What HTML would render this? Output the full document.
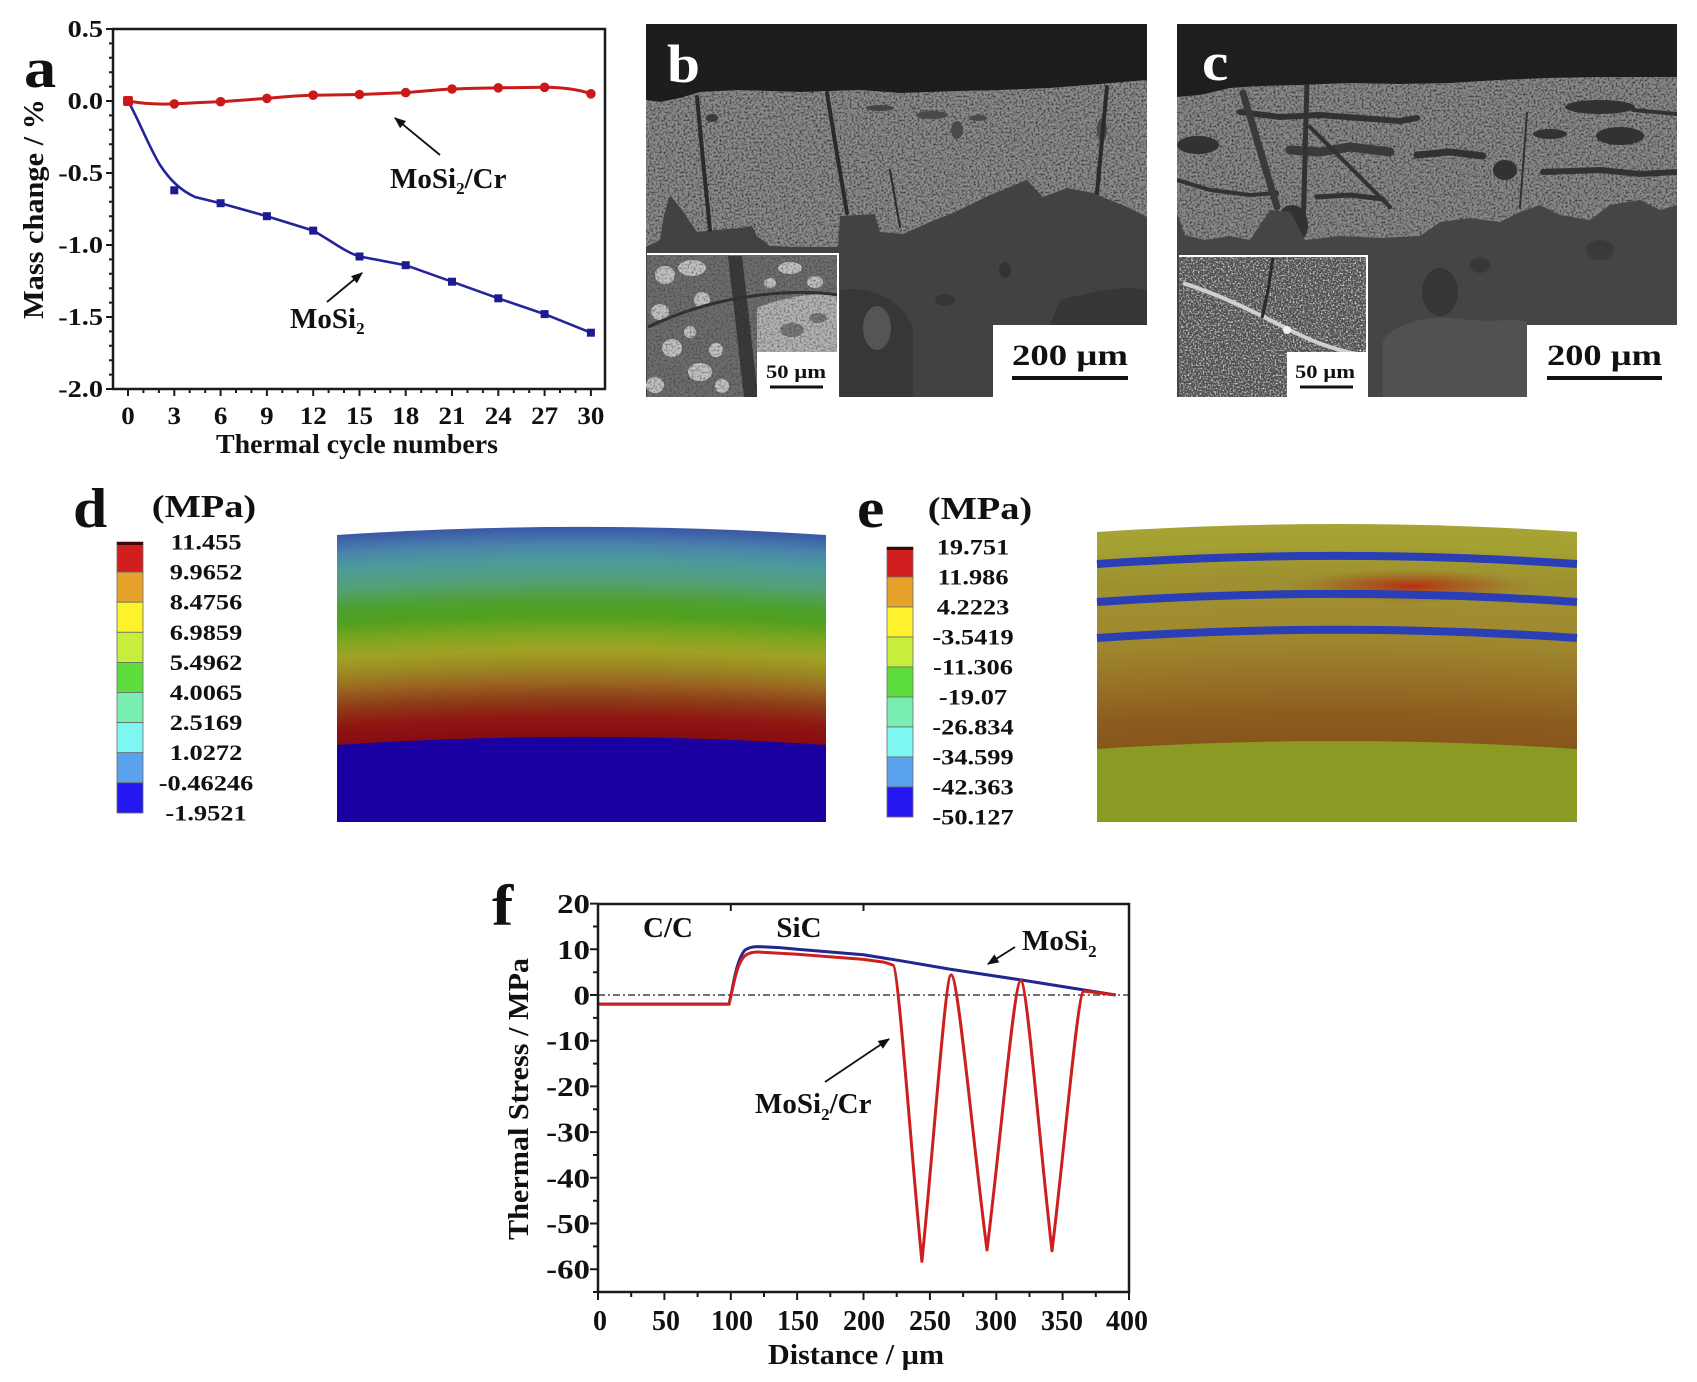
<!DOCTYPE html>
<html>
<head>
<meta charset="utf-8">
<style>
html,body{margin:0;padding:0;background:#fff;}
svg{display:block;}
svg text{font-family:"Liberation Serif","Times New Roman",serif;font-weight:bold;}
</style>
</head>
<body>
<svg width="1697" height="1382" viewBox="0 0 1697 1382" xmlns="http://www.w3.org/2000/svg" font-family="Liberation Serif, serif" font-weight="bold">
<defs>
  <marker id="ah" viewBox="0 0 10 10" refX="9" refY="5" markerWidth="6.5" markerHeight="6.5" orient="auto"><path d="M0,1 L10,5 L0,9 Z" fill="#111"/></marker>
  <filter id="grain" x="0" y="0" width="1" height="1" filterUnits="objectBoundingBox" color-interpolation-filters="sRGB">
    <feTurbulence type="fractalNoise" baseFrequency="0.5" numOctaves="2" seed="7"/>
    <feColorMatrix type="matrix" values="0 0 0 0 0.15  0 0 0 0 0.15  0 0 0 0 0.15  0 0 0 2.2 -0.95"/>
  </filter>
  <filter id="grain2" x="0" y="0" width="1" height="1" filterUnits="objectBoundingBox" color-interpolation-filters="sRGB">
    <feTurbulence type="fractalNoise" baseFrequency="0.6" numOctaves="2" seed="3"/>
    <feColorMatrix type="matrix" values="0 0 0 0 0.95  0 0 0 0 0.95  0 0 0 0 0.95  0 0 0 2.6 -1.2"/>
  </filter>
  <clipPath id="cpB"><rect x="646" y="24" width="501" height="373"/></clipPath>
  <clipPath id="cpC"><rect x="1177" y="24" width="500" height="373"/></clipPath>
  <clipPath id="brightB"><polygon points="646,100 660,102 680,98 700,92 740,90 800,92 860,90 900,93 960,91 1000,90 1050,88 1100,84 1147,80 1147,217 1127,207 1093,193 1067,188 1043,197 1027,180 990,195 953,213 930,222 903,234 880,232 875,214 840,216 838,247 800,247 770,246 757,236 752,226 740,228 715,230 697,232 682,210 670,195 664,215 660,240 646,247"/></clipPath>
  <clipPath id="brightC"><polygon points="1177,97 1200,95 1230,88 1260,86 1300,85 1350,83 1400,84 1450,83 1500,80 1550,78 1600,77 1677,77 1677,205 1660,210 1640,200 1610,205 1590,220 1560,215 1540,205 1520,212 1500,222 1470,218 1440,222 1420,236 1380,238 1340,236 1305,240 1290,212 1270,210 1250,240 1230,236 1205,240 1185,235 1177,213"/></clipPath>
  <radialGradient id="gd" gradientUnits="userSpaceOnUse" cx="581.5" cy="4227" r="3800">
    <stop offset="0.91842" stop-color="#870c12"/>
    <stop offset="0.92342" stop-color="#8e1612"/>
    <stop offset="0.92816" stop-color="#8e3a18"/>
    <stop offset="0.93342" stop-color="#9a6a22"/>
    <stop offset="0.93737" stop-color="#9c8a22"/>
    <stop offset="0.94132" stop-color="#a0a224"/>
    <stop offset="0.94526" stop-color="#82a620"/>
    <stop offset="0.95053" stop-color="#50a01e"/>
    <stop offset="0.95447" stop-color="#4ea032"/>
    <stop offset="0.95974" stop-color="#54a07a"/>
    <stop offset="0.96500" stop-color="#4c9a9c"/>
    <stop offset="0.96895" stop-color="#4a84aa"/>
    <stop offset="0.97368" stop-color="#3a58a8"/>
  </radialGradient>
  <radialGradient id="ge" gradientUnits="userSpaceOnUse" cx="1337" cy="4124" r="3700">
    <stop offset="0.91432" stop-color="#88561c"/>
    <stop offset="0.92135" stop-color="#8c5c1e"/>
    <stop offset="0.92811" stop-color="#946a24"/>
    <stop offset="0.93622" stop-color="#9a7c2a"/>
    <stop offset="0.94108" stop-color="#9e862c"/>
    <stop offset="0.94838" stop-color="#a08c30"/>
    <stop offset="0.95297" stop-color="#a08e30"/>
    <stop offset="0.95784" stop-color="#9e9030"/>
    <stop offset="0.96324" stop-color="#a09830"/>
    <stop offset="0.96730" stop-color="#a4a032"/>
    <stop offset="0.97297" stop-color="#a6a434"/>
  </radialGradient>
  <radialGradient id="hot" cx="0.5" cy="0.5" r="0.5">
    <stop offset="0" stop-color="#b8280e" stop-opacity="0.95"/>
    <stop offset="0.5" stop-color="#a8401a" stop-opacity="0.5"/>
    <stop offset="1" stop-color="#a06020" stop-opacity="0"/>
  </radialGradient>
</defs>

<!-- ================= Panel a ================= -->
<g transform="translate(24,87) scale(1.15,1)"><text x="0" y="0" font-size="56" fill="#111">a</text></g>
<rect x="113" y="29" width="492" height="360" fill="none" stroke="#1a1a1a" stroke-width="2.5"/>
<path stroke="#1a1a1a" stroke-width="2" fill="none" d="
M113,29h-7 M113,43.4h-4 M113,57.8h-4 M113,72.2h-4 M113,86.6h-4
M113,101h-7 M113,115.4h-4 M113,129.8h-4 M113,144.2h-4 M113,158.6h-4
M113,173h-7 M113,187.4h-4 M113,201.8h-4 M113,216.2h-4 M113,230.6h-4
M113,245h-7 M113,259.4h-4 M113,273.8h-4 M113,288.2h-4 M113,302.6h-4
M113,317h-7 M113,331.4h-4 M113,345.8h-4 M113,360.2h-4 M113,374.6h-4
M113,389h-7
M128,389v7 M143.4,389v4 M158.9,389v4 M174.3,389v7 M189.7,389v4 M205.2,389v4 M220.6,389v7 M236,389v4 M251.4,389v4
M266.9,389v7 M282.3,389v4 M297.7,389v4 M313.2,389v7 M328.6,389v4 M344,389v4 M359.5,389v7 M374.9,389v4 M390.3,389v4
M405.7,389v7 M421.2,389v4 M436.6,389v4 M452,389v7 M467.5,389v4 M482.9,389v4 M498.3,389v7 M513.8,389v4 M529.2,389v4
M544.6,389v7 M560,389v4 M575.5,389v4 M590.9,389v7"/>
<g transform="translate(103,0) scale(1.18,1)" font-size="24" text-anchor="end" fill="#111">
  <text x="0" y="37">0.5</text>
  <text x="0" y="109">0.0</text>
  <text x="0" y="181">-0.5</text>
  <text x="0" y="253">-1.0</text>
  <text x="0" y="325">-1.5</text>
  <text x="0" y="397">-2.0</text>
</g>
<g font-size="25" text-anchor="middle" fill="#111">
  <g transform="translate(128,424) scale(1.08,1)"><text>0</text></g>
  <g transform="translate(174.3,424) scale(1.08,1)"><text>3</text></g>
  <g transform="translate(220.6,424) scale(1.08,1)"><text>6</text></g>
  <g transform="translate(266.9,424) scale(1.08,1)"><text>9</text></g>
  <g transform="translate(313.2,424) scale(1.08,1)"><text>12</text></g>
  <g transform="translate(359.5,424) scale(1.08,1)"><text>15</text></g>
  <g transform="translate(405.7,424) scale(1.08,1)"><text>18</text></g>
  <g transform="translate(452,424) scale(1.08,1)"><text>21</text></g>
  <g transform="translate(498.3,424) scale(1.08,1)"><text>24</text></g>
  <g transform="translate(544.6,424) scale(1.08,1)"><text>27</text></g>
  <g transform="translate(590.9,424) scale(1.08,1)"><text>30</text></g>
</g>
<text x="216" y="453" font-size="27" textLength="282" lengthAdjust="spacingAndGlyphs" fill="#111">Thermal cycle numbers</text>
<text transform="translate(43,209) rotate(-90)" font-size="28" text-anchor="middle" textLength="220" lengthAdjust="spacingAndGlyphs" fill="#111">Mass change / %</text>

<!-- blue series -->
<path d="M128,101 C138,118 148,145 160,165 C170,180 180,190 195,197 L220.6,203.2 L266.9,216.2 L313.2,230.6 C330,240 345,252 359.5,256.5 L405.7,265.2 L452,281.7 L498.3,298.3 L544.6,314.1 L590.9,332.7" fill="none" stroke="#24249a" stroke-width="2.6"/>
<g fill="#1c1c90">
  <rect x="170.3" y="186.3" width="8" height="8"/>
  <rect x="216.6" y="199.2" width="8" height="8"/>
  <rect x="262.9" y="212.2" width="8" height="8"/>
  <rect x="309.2" y="226.6" width="8" height="8"/>
  <rect x="355.5" y="252.5" width="8" height="8"/>
  <rect x="401.7" y="261.2" width="8" height="8"/>
  <rect x="448" y="277.7" width="8" height="8"/>
  <rect x="494.3" y="294.3" width="8" height="8"/>
  <rect x="540.6" y="310.1" width="8" height="8"/>
  <rect x="586.9" y="328.7" width="8" height="8"/>
</g>
<!-- red series -->
<path d="M128,101 C145,104 160,104.5 174.3,103.9 C195,103 205,102 220.6,101.7 C240,100.5 250,99.5 266.9,98.4 C285,96.5 300,95.5 313.2,95.2 L359.5,94.5 C380,93.8 395,93 405.7,92.6 C425,91 440,89.5 452,89 C470,88.2 485,88 498.3,87.8 L544.6,87.3 C565,87.5 580,90 590.9,93.8" fill="none" stroke="#c81c1c" stroke-width="3"/>
<g fill="#cc1818">
  <rect x="123" y="96" width="10" height="10" rx="2"/>
  <circle cx="174.3" cy="103.9" r="4.8"/>
  <circle cx="220.6" cy="101.7" r="4.8"/>
  <circle cx="266.9" cy="98.4" r="4.8"/>
  <circle cx="313.2" cy="95.2" r="4.8"/>
  <circle cx="359.5" cy="94.5" r="4.8"/>
  <circle cx="405.7" cy="92.6" r="4.8"/>
  <circle cx="452" cy="89" r="4.8"/>
  <circle cx="498.3" cy="87.8" r="4.8"/>
  <circle cx="544.6" cy="87.3" r="4.8"/>
  <circle cx="590.9" cy="93.8" r="4.8"/>
</g>
<line x1="440" y1="155" x2="395" y2="118" stroke="#111" stroke-width="1.8" marker-end="url(#ah)"/>
<line x1="327" y1="302" x2="362" y2="273" stroke="#111" stroke-width="1.8" marker-end="url(#ah)"/>
<text x="390" y="188" font-size="29" fill="#111">MoSi<tspan font-size="17" dy="6">2</tspan><tspan dy="-6">/Cr</tspan></text>
<text x="290" y="328" font-size="29" fill="#111">MoSi<tspan font-size="17" dy="6">2</tspan></text>

<!-- ================= Panel b ================= -->
<g clip-path="url(#cpB)">
  <rect x="646" y="24" width="501" height="373" fill="#424242"/>
  <path d="M840,290 C870,285 905,300 913,330 L913,397 L840,397 Z" fill="#373737"/>
  <ellipse cx="877" cy="328" rx="14" ry="22" fill="#555"/>
  <path d="M1060,300 C1100,290 1130,285 1147,290 L1147,325 L1050,325 Z" fill="#363636"/>
  <ellipse cx="945" cy="300" rx="10" ry="6" fill="#363636"/>
  <ellipse cx="1005" cy="270" rx="6" ry="8" fill="#333"/>
  <polygon points="646,24 1147,24 1147,80 1100,84 1050,88 1000,90 960,91 900,93 860,90 800,92 740,90 700,92 680,98 660,102 646,100" fill="#1d1d1d"/>
  <g clip-path="url(#brightB)">
    <rect x="646" y="78" width="501" height="172" fill="#8c8c8c"/>
    <rect x="646" y="78" width="501" height="172" filter="url(#grain)"/>
    <ellipse cx="880" cy="108" rx="14" ry="3" fill="#444"/>
    <ellipse cx="932" cy="115" rx="16" ry="4" fill="#4a4a4a"/>
    <ellipse cx="957" cy="130" rx="6" ry="9" fill="#4a4a4a"/>
    <ellipse cx="978" cy="118" rx="9" ry="3" fill="#4a4a4a"/>
    <ellipse cx="712" cy="118" rx="6" ry="4" fill="#3a3a3a"/>
    <ellipse cx="1102" cy="130" rx="5" ry="12" fill="#4a4a4a"/>
  </g>
  <g fill="none" stroke="#2b2b2b" stroke-linecap="round">
    <path d="M697,97 L703,160 L710,230" stroke-width="4"/>
    <path d="M827,93 L838,160 L847,213" stroke-width="4"/>
    <path d="M890,170 L900,227" stroke-width="2"/>
    <path d="M1107,87 L1102,140 L1097,193" stroke-width="4"/>
  </g>
  <!-- inset -->
  <rect x="647" y="254" width="191" height="143" fill="#6e6e6e"/>
  <g fill="#c4c4c4">
    <ellipse cx="665" cy="275" rx="10" ry="9"/>
    <ellipse cx="692" cy="268" rx="14" ry="8"/>
    <ellipse cx="702" cy="300" rx="8" ry="8"/>
    <ellipse cx="660" cy="312" rx="9" ry="8"/>
    <ellipse cx="672" cy="348" rx="10" ry="9"/>
    <ellipse cx="700" cy="372" rx="12" ry="9"/>
    <ellipse cx="690" cy="332" rx="6" ry="6"/>
    <ellipse cx="716" cy="350" rx="7" ry="7"/>
    <ellipse cx="655" cy="385" rx="9" ry="8"/>
    <ellipse cx="722" cy="386" rx="7" ry="7"/>
    <ellipse cx="790" cy="268" rx="12" ry="6"/>
    <ellipse cx="815" cy="282" rx="8" ry="6"/>
    <ellipse cx="770" cy="283" rx="6" ry="5"/>
  </g>
  <path d="M757,308 C780,298 810,292 838,295 L838,352 L757,352 Z" fill="#b4b4b4"/>
  <ellipse cx="792" cy="330" rx="12" ry="7" fill="#7a7a7a"/>
  <ellipse cx="818" cy="318" rx="9" ry="5" fill="#7a7a7a"/>
  <polygon points="728,256 742,256 758,397 744,397" fill="#3a3a3a"/>
  <path d="M648,327 C680,312 710,303 740,298 C770,293 805,290 838,295" fill="none" stroke="#333" stroke-width="3"/>
  <rect x="647" y="254" width="191" height="143" filter="url(#grain)" opacity="0.6"/>
  <path d="M647,254 L838,254 L838,397" fill="none" stroke="#fff" stroke-width="2"/>
  <rect x="757" y="352" width="81" height="45" fill="#fff"/>
  <text x="766" y="378" font-size="19" textLength="60" lengthAdjust="spacingAndGlyphs" fill="#111">50 µm</text>
  <rect x="770" y="385.5" width="53" height="3" fill="#111"/>
  <!-- scale box -->
  <rect x="993" y="325" width="154" height="72" fill="#fff"/>
  <text x="1012" y="365" font-size="30" textLength="116" lengthAdjust="spacingAndGlyphs" fill="#111">200 µm</text>
  <rect x="1012" y="376" width="116" height="4" fill="#111"/>
</g>
<g transform="translate(667,82) scale(1.1,1)"><text font-size="54" fill="#fff">b</text></g>

<!-- ================= Panel c ================= -->
<g clip-path="url(#cpC)">
  <rect x="1177" y="24" width="500" height="373" fill="#454545"/>
  <path d="M1383,397 L1383,340 C1400,318 1440,315 1470,320 C1500,322 1520,318 1527,322 L1527,397 Z" fill="#515151"/>
  <ellipse cx="1440" cy="292" rx="18" ry="24" fill="#363636"/>
  <ellipse cx="1480" cy="265" rx="10" ry="8" fill="#383838"/>
  <ellipse cx="1600" cy="250" rx="14" ry="10" fill="#3a3a3a"/>
  <polygon points="1177,24 1677,24 1677,77 1600,77 1550,78 1500,80 1450,83 1400,84 1350,83 1300,85 1260,86 1230,88 1200,95 1177,97" fill="#1e1e1e"/>
  <g clip-path="url(#brightC)">
    <rect x="1177" y="75" width="500" height="170" fill="#8a8a8a"/>
    <rect x="1177" y="75" width="500" height="170" filter="url(#grain)"/>
    <g fill="#323232">
      <ellipse cx="1198" cy="145" rx="21" ry="9"/>
      <ellipse cx="1600" cy="107" rx="35" ry="7"/>
      <ellipse cx="1550" cy="134" rx="17" ry="5"/>
      <ellipse cx="1620" cy="136" rx="24" ry="9"/>
      <ellipse cx="1505" cy="170" rx="12" ry="10"/>
      <ellipse cx="1292" cy="225" rx="16" ry="20"/>
    </g>
    <g fill="none" stroke="#323232" stroke-linecap="round" stroke-linejoin="round">
      <polyline points="1240,112 1280,117 1320,115 1360,118 1400,121 1417,118" stroke-width="6"/>
      <polyline points="1633,110 1677,114" stroke-width="4"/>
      <polyline points="1290,150 1320,152 1350,147 1390,152" stroke-width="9" stroke="#3a3a3a"/>
      <polyline points="1417,155 1450,152 1483,156" stroke-width="7"/>
      <polyline points="1543,172 1600,170 1640,174 1677,172" stroke-width="6"/>
      <polyline points="1177,180 1210,190 1250,195 1277,193" stroke-width="4"/>
      <polyline points="1317,197 1350,195 1383,199" stroke-width="5"/>
      <path d="M1243,93 L1277,207" stroke-width="7" stroke="#3a3a3a"/>
      <path d="M1307,80 L1303,233" stroke-width="5"/>
      <path d="M1310,127 L1390,207" stroke-width="4"/>
      <path d="M1527,113 L1520,207" stroke-width="2"/>
    </g>
  </g>
  <!-- inset -->
  <rect x="1179" y="256" width="188" height="141" fill="#4e4e4e"/>
  <rect x="1179" y="256" width="188" height="141" filter="url(#grain2)"/>
  <path d="M1183,283 C1220,295 1250,310 1280,325 C1305,338 1330,350 1367,356" fill="none" stroke="#d0d0d0" stroke-width="4"/>
  <circle cx="1287" cy="330" r="4" fill="#f0f0f0"/>
  <path d="M1273,258 L1268,290 L1262,318" fill="none" stroke="#2a2a2a" stroke-width="3"/>
  <path d="M1179,256 L1367,256 L1367,397" fill="none" stroke="#fff" stroke-width="2"/>
  <rect x="1287" y="352" width="80" height="45" fill="#fff"/>
  <text x="1295" y="378" font-size="19" textLength="60" lengthAdjust="spacingAndGlyphs" fill="#111">50 µm</text>
  <rect x="1300" y="385.5" width="53" height="3" fill="#111"/>
  <rect x="1527" y="325" width="150" height="72" fill="#fff"/>
  <text x="1547" y="365" font-size="30" textLength="115" lengthAdjust="spacingAndGlyphs" fill="#111">200 µm</text>
  <rect x="1547" y="376" width="115" height="4" fill="#111"/>
</g>
<g transform="translate(1202,80) scale(1.1,1)"><text font-size="54" fill="#fff">c</text></g>

<!-- ================= Panel d ================= -->
<g transform="translate(73,527) scale(1.1,1)"><text font-size="56" fill="#111">d</text></g>
<g transform="translate(204,517) scale(1.2,1)"><text font-size="32" text-anchor="middle" fill="#111">(MPa)</text></g>
<g stroke="#6a6a6a" stroke-width="0.8">
  <rect x="117" y="542" width="26" height="30.1" fill="#d21e1e"/>
  <rect x="117" y="572.1" width="26" height="30.1" fill="#e6a22a"/>
  <rect x="117" y="602.2" width="26" height="30.1" fill="#fef22c"/>
  <rect x="117" y="632.3" width="26" height="30.1" fill="#c6ee3a"/>
  <rect x="117" y="662.4" width="26" height="30.1" fill="#5ede3c"/>
  <rect x="117" y="692.5" width="26" height="30.1" fill="#78eeb0"/>
  <rect x="117" y="722.6" width="26" height="30.1" fill="#7ef6f2"/>
  <rect x="117" y="752.7" width="26" height="30.1" fill="#5aa2ee"/>
  <rect x="117" y="782.8" width="26" height="30.2" fill="#2416ee"/>
</g>
<rect x="117" y="542" width="26" height="3" fill="#3a0a0a"/>
<g transform="translate(206,0) scale(1.2,1)" font-size="22" text-anchor="middle" fill="#111">
  <text x="0" y="549.5">11.455</text>
  <text x="0" y="579.6">9.9652</text>
  <text x="0" y="609.7">8.4756</text>
  <text x="0" y="639.8">6.9859</text>
  <text x="0" y="669.9">5.4962</text>
  <text x="0" y="700">4.0065</text>
  <text x="0" y="730.1">2.5169</text>
  <text x="0" y="760.2">1.0272</text>
  <text x="0" y="790.3">-0.46246</text>
  <text x="0" y="820.5">-1.9521</text>
</g>
<path d="M337,535 A3700,3700 0 0 1 826,535 L826,822 L337,822 Z" fill="url(#gd)"/>
<path d="M337,745 A3700,3700 0 0 1 826,745 L826,822 L337,822 Z" fill="#1a00a0"/>

<!-- ================= Panel e ================= -->
<g transform="translate(857,527) scale(1.1,1)"><text font-size="56" fill="#111">e</text></g>
<g transform="translate(980,519) scale(1.2,1)"><text font-size="32" text-anchor="middle" fill="#111">(MPa)</text></g>
<g stroke="#6a6a6a" stroke-width="0.8">
  <rect x="887" y="547" width="26" height="30" fill="#d21e1e"/>
  <rect x="887" y="577" width="26" height="30" fill="#e6a22a"/>
  <rect x="887" y="607" width="26" height="30" fill="#fef22c"/>
  <rect x="887" y="637" width="26" height="30" fill="#c6ee3a"/>
  <rect x="887" y="667" width="26" height="30" fill="#5ede3c"/>
  <rect x="887" y="697" width="26" height="30" fill="#78eeb0"/>
  <rect x="887" y="727" width="26" height="30" fill="#7ef6f2"/>
  <rect x="887" y="757" width="26" height="30" fill="#5aa2ee"/>
  <rect x="887" y="787" width="26" height="30" fill="#2416ee"/>
</g>
<rect x="887" y="547" width="26" height="3" fill="#3a0a0a"/>
<g transform="translate(973,0) scale(1.2,1)" font-size="22" text-anchor="middle" fill="#111">
  <text x="0" y="554.5">19.751</text>
  <text x="0" y="584.5">11.986</text>
  <text x="0" y="614.5">4.2223</text>
  <text x="0" y="644.5">-3.5419</text>
  <text x="0" y="674.5">-11.306</text>
  <text x="0" y="704.5">-19.07</text>
  <text x="0" y="734.5">-26.834</text>
  <text x="0" y="764.5">-34.599</text>
  <text x="0" y="794.5">-42.363</text>
  <text x="0" y="824.5">-50.127</text>
</g>
<path d="M1097,532 A3600,3600 0 0 1 1577,532 L1577,822 L1097,822 Z" fill="url(#ge)"/>
<ellipse cx="1410" cy="586" rx="125" ry="17" fill="url(#hot)"/>
<path d="M1097,749 A3600,3600 0 0 1 1577,749 L1577,822 L1097,822 Z" fill="#8a9a22"/>
<g fill="none" stroke="#2a3eb6" stroke-width="8">
  <path d="M1097,564 A3568,3568 0 0 1 1577,564"/>
  <path d="M1097,602 A3530,3530 0 0 1 1577,602"/>
  <path d="M1097,638 A3494,3494 0 0 1 1577,638"/>
</g>

<!-- ================= Panel f ================= -->
<g transform="translate(492,925) scale(1.1,1)"><text font-size="58" fill="#111">f</text></g>
<line x1="598" y1="995" x2="1129" y2="995" stroke="#444" stroke-width="1.6" stroke-dasharray="7 3 2 3"/>
<path d="M598,1004.1 L729,1004.1 C733,988 736,960 745,950 C749,947.5 753,946.6 757.3,946.6 C775,947 790,948.5 797.1,949.3 L863.5,954.8 L903.3,961.2 L951.1,969.4 L1020.8,979.9 L1086.5,990.4 L1115.7,995" fill="none" stroke="#25258e" stroke-width="3"/>
<path d="M598,1004.1 L729,1004.1 C733,990 736,962 746,955 C750,952.5 754,952 757.3,952 L797.1,954.3 L863.5,959.4 L883.4,962.1 C887,963 890,964 892.7,965 C898.5,965 910.2,1142.8 921.9,1261.4 C933.6,1146.8 945.3,974.9 951.1,974.9 C958.3,974.9 972.6,1140 987,1250 C1000.5,1142.3 1014,980.8 1020.8,980.8 C1027,980.8 1039.5,1142.9 1052,1250.9 C1064.8,1147.1 1077.5,991.3 1083.9,991.3 L1092,992 L1115.7,995" fill="none" stroke="#cc2020" stroke-width="3" stroke-linejoin="round"/>
<rect x="598" y="904" width="531" height="388" fill="none" stroke="#1a1a1a" stroke-width="2.5"/>
<path stroke="#1a1a1a" stroke-width="2" fill="none" d="
M598,1292v8 M631.2,1292v5 M664.4,1292v8 M697.6,1292v5 M730.8,1292v8 M764,1292v5 M797.1,1292v8 M830.3,1292v5
M863.5,1292v8 M896.7,1292v5 M929.9,1292v8 M963.1,1292v5 M996.3,1292v8 M1029.5,1292v5 M1062.6,1292v8 M1095.8,1292v5 M1129,1292v8
M598,903.6h-8 M598,926.5h-5 M598,949.3h-8 M598,972.2h-5 M598,995h-8 M598,1017.9h-5 M598,1040.7h-8 M598,1063.6h-5
M598,1086.4h-8 M598,1109.3h-5 M598,1132.1h-8 M598,1155h-5 M598,1177.8h-8 M598,1200.7h-5 M598,1223.5h-8 M598,1246.4h-5 M598,1269.2h-8 M598,1292h-5
M730.8,904v7 M863.5,904v7"/>
<g transform="translate(590,0) scale(1.22,1)" font-size="27" text-anchor="end" fill="#111">
  <text x="0" y="913">20</text>
  <text x="0" y="958.8">10</text>
  <text x="0" y="1004.5">0</text>
  <text x="0" y="1050.2">-10</text>
  <text x="0" y="1095.9">-20</text>
  <text x="0" y="1141.6">-30</text>
  <text x="0" y="1187.3">-40</text>
  <text x="0" y="1233">-50</text>
  <text x="0" y="1278.7">-60</text>
</g>
<g font-size="28" text-anchor="middle" fill="#111">
  <text x="600" y="1330">0</text>
  <text x="666" y="1330">50</text>
  <text x="732" y="1330">100</text>
  <text x="798" y="1330">150</text>
  <text x="864" y="1330">200</text>
  <text x="930" y="1330">250</text>
  <text x="996" y="1330">300</text>
  <text x="1062" y="1330">350</text>
  <text x="1127" y="1330">400</text>
</g>
<text x="768" y="1364" font-size="29" textLength="176" lengthAdjust="spacingAndGlyphs" fill="#111">Distance / µm</text>
<text transform="translate(528,1099) rotate(-90)" font-size="28" text-anchor="middle" textLength="282" lengthAdjust="spacingAndGlyphs" fill="#111">Thermal Stress / MPa</text>
<text x="668" y="937" font-size="29" text-anchor="middle" fill="#111">C/C</text>
<text x="799" y="937" font-size="29" text-anchor="middle" fill="#111">SiC</text>
<text x="1022" y="950" font-size="29" fill="#111">MoSi<tspan font-size="17" dy="7">2</tspan></text>
<line x1="1015" y1="947" x2="988" y2="964" stroke="#111" stroke-width="1.8" marker-end="url(#ah)"/>
<text x="755" y="1113" font-size="29" fill="#111">MoSi<tspan font-size="17" dy="7">2</tspan><tspan dy="-7">/Cr</tspan></text>
<line x1="825" y1="1082" x2="889" y2="1039" stroke="#111" stroke-width="1.8" marker-end="url(#ah)"/>
</svg>
</body>
</html>
